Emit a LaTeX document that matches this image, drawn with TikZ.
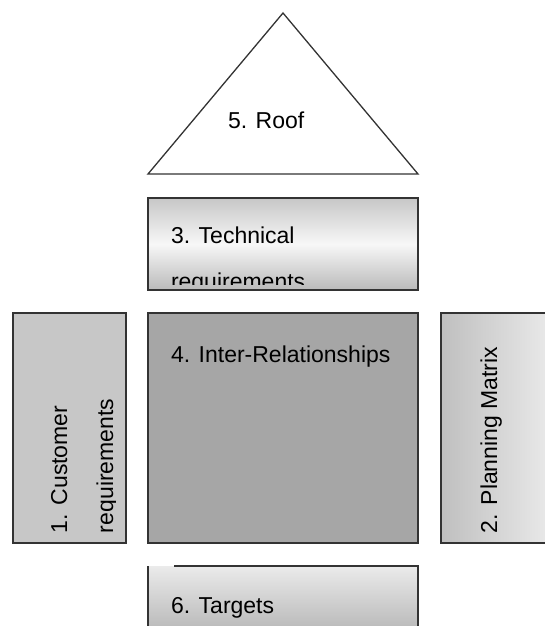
\documentclass[tikz,border=0pt]{standalone}
\usepackage{fontspec}
\setmainfont{Liberation Sans}
\usetikzlibrary{calc,positioning}

\begin{document}
\begin{tikzpicture}[x=1pt,y=-1pt,
    border/.style={draw=black!80,line width=1.3pt},
    part/.style={border,inner sep=0pt,outer sep=0pt,anchor=north west},
    lbl/.style={font=\fontsize{23}{46}\selectfont,inner sep=0pt,outer sep=0pt,
                align=left,anchor=base west}]
  \useasboundingbox (0,0) rectangle (544,626);
  % roof
  \coordinate (apex) at (283,13);
  \coordinate (eaveL) at (148,174);
  \coordinate (eaveR) at (418,174);
  \draw[border] (apex) -- (eaveL) -- (eaveR) -- cycle;
  \node[lbl] (roof) at (228,128) {5. Roof};
  % technical requirements (2nd line cut off by the box)
  \node[part,minimum width=270pt,minimum height=92pt,
        top color=black!22,bottom color=black!27,middle color=black!3] (tech) at (148,198) {};
  \begin{scope}
    \clip (tech.north west) rectangle ([yshift=6pt]tech.south east);
    \node[lbl] (techtxt) at ($(tech.north west)+(23,91)$) {3. Technical\\requirements};
  \end{scope}
  % customer requirements
  \node[part,minimum width=113pt,minimum height=230pt,fill=black!22] (cust) at (13,313) {};
  \begin{scope}
    \clip (cust.south west) rectangle ([xshift=-11pt]cust.north east);
    \node[lbl,rotate=90] (custtxt) at ($(cust.south west)+(100,-10)$) {1. Customer\\requirements};
  \end{scope}
  % inter-relationships
  \node[part,minimum width=270pt,minimum height=230pt,fill=black!35] (inter) at (148,313) {};
  \node[lbl] (intertxt) at ($(inter.north west)+(23,49)$) {4. Inter-Relationships};
  % planning matrix
  \node[part,minimum width=125pt,minimum height=230pt,
        left color=black!25,right color=black!6] (plan) at (441,313) {};
  \node[lbl,rotate=90] (plantxt) at ($(plan.south west)+(56,-10)$) {2. Planning Matrix};
  % targets
  \node[anchor=north west,inner sep=0pt,outer sep=0pt,minimum width=270pt,
        minimum height=66pt,top color=black!8,bottom color=black!28] (tgt) at (148,566) {};
  \draw[border] ([xshift=26pt]tgt.north west) -- (tgt.north east) -- (tgt.south east);
  \draw[border] (tgt.north west) -- (tgt.south west);
  \node[lbl] (tgttxt) at ($(tgt.north west)+(23,47)$) {6. Targets};
\end{tikzpicture}
\end{document}
